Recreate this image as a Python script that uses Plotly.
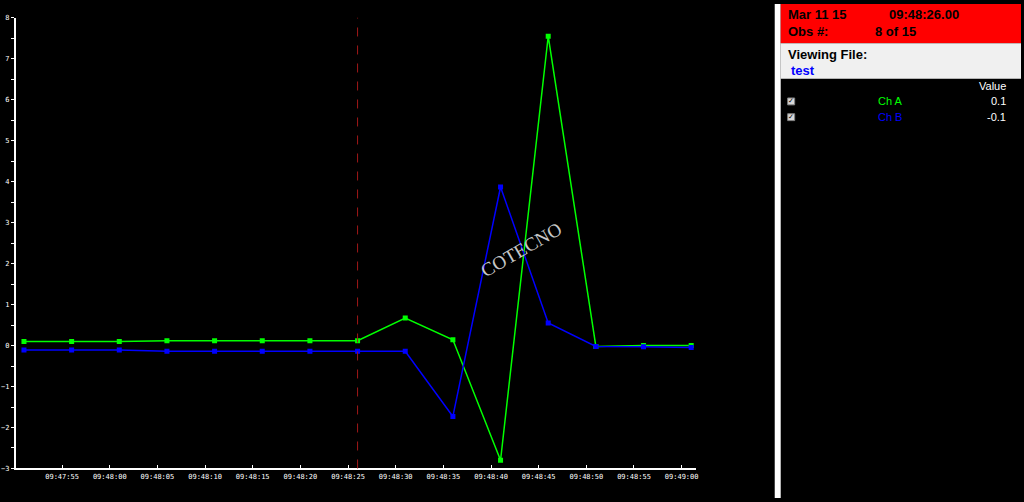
import plotly.graph_objects as go
from datetime import datetime, timedelta

# ---- data ----
obs_times = ["2015-03-11 09:47:51", "2015-03-11 09:47:56", "2015-03-11 09:48:01",
             "2015-03-11 09:48:06", "2015-03-11 09:48:11", "2015-03-11 09:48:16",
             "2015-03-11 09:48:21", "2015-03-11 09:48:26", "2015-03-11 09:48:31",
             "2015-03-11 09:48:36", "2015-03-11 09:48:41", "2015-03-11 09:48:46",
             "2015-03-11 09:48:51", "2015-03-11 09:48:56", "2015-03-11 09:49:01"]
ch_a = [0.1, 0.1, 0.1, 0.12, 0.12, 0.12, 0.12, 0.12, 0.67, 0.14, -2.8, 7.55, -0.02, 0.0, 0.0]
ch_b = [-0.11, -0.11, -0.11, -0.14, -0.14, -0.14, -0.14, -0.14, -0.14, -1.73, 3.87, 0.55, -0.02, -0.03, -0.05]
tick_times = ["2015-03-11 09:47:55", "2015-03-11 09:48:00", "2015-03-11 09:48:05",
              "2015-03-11 09:48:10", "2015-03-11 09:48:15", "2015-03-11 09:48:20",
              "2015-03-11 09:48:25", "2015-03-11 09:48:30", "2015-03-11 09:48:35",
              "2015-03-11 09:48:40", "2015-03-11 09:48:45", "2015-03-11 09:48:50",
              "2015-03-11 09:48:55", "2015-03-11 09:49:00"]
tick_labels = [t.split(" ")[1] for t in tick_times]
y_ticks = [8, 7, 6, 5, 4, 3, 2, 1, 0, -1, -2, -3]
cursor_index = 7
channels = ["Ch A", "Ch B"]
channel_colors = ["#00ff00", "#0000ff"]
cursor_values = ["0.1", "-0.1"]
header_date = "Mar 11 15"
header_time = "09:48:26.00"
obs_label = "8 of 15"
file_name = "test"

W, H = 1024, 502
def px(x): return x / W
def py(y): return 1 - y / H

fig = go.Figure()
fig.add_trace(go.Scatter(x=obs_times, y=ch_a, mode="lines+markers", name="Ch A",
                         line=dict(color=channel_colors[0], width=1.5),
                         marker=dict(symbol="square", size=5, color=channel_colors[0])))
fig.add_trace(go.Scatter(x=obs_times, y=ch_b, mode="lines+markers", name="Ch B",
                         line=dict(color=channel_colors[1], width=1.5),
                         marker=dict(symbol="square", size=5, color=channel_colors[1])))

t0 = datetime.strptime(obs_times[0], "%Y-%m-%d %H:%M:%S") - timedelta(seconds=0.84)
t1 = datetime.strptime(obs_times[-1], "%Y-%m-%d %H:%M:%S") + timedelta(seconds=0.5)

axis_font = dict(family="DejaVu Sans Mono", size=7, color="white")
fig.update_layout(
    width=W, height=H, paper_bgcolor="black", plot_bgcolor="black",
    margin=dict(l=0, r=0, t=0, b=0), showlegend=False,
    xaxis=dict(domain=[px(16), px(698)], type="date", range=[t0, t1],
               tickvals=tick_times, ticktext=tick_labels, ticks="inside", ticklen=3,
               tickcolor="white", showline=True, linecolor="white", linewidth=2,
               showgrid=False, zeroline=False, tickfont=axis_font, anchor="y"),
    yaxis=dict(domain=[1 - 472 / H, 1 - 14 / H], range=[-3, 8], tickvals=y_ticks,
               ticks="outside", ticklen=3, tickcolor="white", showline=True,
               linecolor="white", linewidth=2, showgrid=False, zeroline=False,
               tickfont=axis_font, anchor="x",
               minor=dict(dtick=0.5, tick0=0, ticks="outside", ticklen=3, tickcolor="white")),
)

# cursor line
fig.add_shape(type="line", xref="x", yref="paper", x0=obs_times[cursor_index], x1=obs_times[cursor_index],
              y0=py(472), y1=py(14), line=dict(color="#a01818", width=1, dash="dash"))

# watermark
fig.add_annotation(text="COTECNO", xref="paper", yref="paper", x=px(523), y=py(249),
                   showarrow=False, textangle=-30,
                   font=dict(family="Liberation Serif", size=19, color="#c8c8c8"))

# right panel
fig.add_shape(type="rect", xref="paper", yref="paper", x0=px(777), x1=px(783), y0=0, y1=1,
              fillcolor="white", line=dict(width=0), layer="above")
fig.add_shape(type="rect", xref="paper", yref="paper", x0=px(783), x1=1, y0=py(40), y1=1,
              fillcolor="#ff0000", line=dict(width=0), layer="above")
fig.add_shape(type="rect", xref="paper", yref="paper", x0=px(783), x1=1, y0=py(76), y1=py(40),
              fillcolor="#f0f0f0", line=dict(width=0), layer="above")

bold = dict(family="Liberation Sans", size=13, color="black")
def ann(text, x, y, font, xanchor="left"):
    fig.add_annotation(text=text, xref="paper", yref="paper", x=px(x), y=py(y),
                       xanchor=xanchor, yanchor="middle", showarrow=False, font=font)

ann("<b>" + header_date + "</b>", 788, 11, bold)
ann("<b>" + header_time + "</b>", 890, 11, bold)
ann("<b>Obs #:</b>", 788, 28, bold)
ann("<b>" + obs_label + "</b>", 876, 28, bold)
ann("<b>Viewing File:</b>", 788, 51, bold)
ann("<b>" + file_name + "</b>", 791, 68, dict(family="Liberation Sans", size=13, color="#0000ff"))
ann("Value", 1011, 83, dict(family="Liberation Sans", size=11, color="white"), xanchor="right")

for i, (ch, col, val) in enumerate(zip(channels, channel_colors, cursor_values)):
    yy = 99 + 16 * i
    fig.add_shape(type="rect", xref="paper", yref="paper", x0=px(790), x1=px(797),
                  y0=py(yy + 3.5), y1=py(yy - 3.5), fillcolor="#d8d8d8",
                  line=dict(color="#808080", width=1), layer="above")
    ann("✓", 793.5, yy, dict(family="DejaVu Sans", size=7, color="black"), xanchor="center")
    ann(ch, 893, yy, dict(family="Liberation Sans", size=11, color=col), xanchor="center")
    ann(val, 1011, yy, dict(family="Liberation Sans", size=11, color="white"), xanchor="right")

post = ("document.documentElement.style.margin='0';document.documentElement.style.padding='0';"
        "document.documentElement.style.overflow='hidden';"
        "document.body.style.margin='0';document.body.style.padding='0';"
        "document.body.style.overflow='hidden';document.body.style.background='black';")
fig.write_html("out.html", post_script=post, config={"displayModeBar": False})
